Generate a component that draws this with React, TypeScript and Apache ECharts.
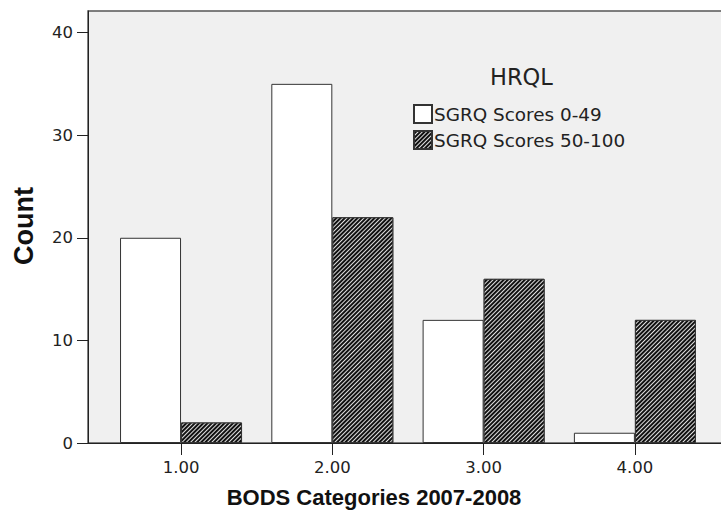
import React, { useEffect, useRef } from "react";
import * as echarts from "echarts";

const categories = [1, 2, 3, 4];
const low = [20, 35, 12, 1];
const high = [2, 22, 16, 12];
const yTicks = [0, 10, 20, 30, 40];
const seriesNames = ["SGRQ Scores 0-49", "SGRQ Scores 50-100"];

export default function App() {
  const ref = useRef<HTMLDivElement>(null);
  useEffect(() => {
    if (!ref.current) return;
    const chart = echarts.init(ref.current, null, { renderer: "svg" });
    const font = "'Liberation Sans', Arial, sans-serif";
    const font2 = "'DejaVu Sans', Verdana, sans-serif";
    chart.setOption({
      animation: false,
      backgroundColor: "#ffffff",
      textStyle: { fontFamily: font2 },
      grid: {
        left: 88,
        right: 0,
        top: 11,
        bottom: 89,
        show: true,
        backgroundColor: "#f0f0f0",
        borderColor: "#555",
        borderWidth: 1.5,
      },
      xAxis: {
        type: "value",
        min: 0.385,
        max: 4.622,
        splitLine: { show: false },
        axisLine: { show: true, onZero: false, lineStyle: { color: "#222", width: 1 } },
        axisTick: { show: true, length: 12, customValues: categories, lineStyle: { color: "#222" } },
        axisLabel: {
          customValues: categories,
          formatter: (v: number) => v.toFixed(2),
          fontSize: 16.5,
          color: "#222",
          margin: 16,
          fontFamily: font2,
        },
      },
      yAxis: {
        type: "value",
        min: 0,
        max: 42.1,
        interval: 10,
        splitLine: { show: false },
        axisLine: { show: true, lineStyle: { color: "#222", width: 1 } },
        axisTick: { show: true, length: 11, customValues: yTicks, lineStyle: { color: "#222" } },
        axisLabel: { customValues: yTicks, fontSize: 16.5, color: "#222", margin: 15, fontFamily: font2 },
      },
      legend: {
        orient: "vertical",
        left: 413,
        top: 104,
        padding: 0,
        itemWidth: 18,
        itemHeight: 18,
        itemGap: 6,
        icon: "rect",
        textStyle: { fontSize: 18.4, color: "#222", padding: [0, 0, 0, -3], fontFamily: font2 },
        data: seriesNames,
      },
      graphic: [
        {
          type: "text",
          x: 490,
          y: 77,
          style: {
            text: "HRQL",
            fontSize: 22.5,
            fill: "#222",
            align: "left",
            verticalAlign: "middle",
            fontFamily: font2,
          },
        },
        {
          type: "text",
          x: 374,
          y: 497,
          style: {
            text: "BODS Categories 2007-2008",
            fontSize: 22,
            fontWeight: "bold",
            fill: "#111",
            align: "center",
            verticalAlign: "middle",
            fontFamily: font,
          },
        },
        {
          type: "text",
          x: 24,
          y: 226,
          rotation: Math.PI / 2,
          style: {
            text: "Count",
            fontSize: 27,
            fontWeight: "bold",
            fill: "#111",
            align: "center",
            verticalAlign: "middle",
            fontFamily: font,
          },
        },
      ],
      series: [
        {
          name: seriesNames[0],
          type: "bar",
          barWidth: 61,
          barGap: "0%",
          data: categories.map((c, i) => [c, low[i]]),
          itemStyle: { color: "#ffffff", borderColor: "#333", borderWidth: 1 },
        },
        {
          name: seriesNames[1],
          type: "bar",
          barWidth: 61,
          barGap: "0%",
          data: categories.map((c, i) => [c, high[i]]),
          itemStyle: {
            color: "#111",
            borderColor: "#333",
            borderWidth: 1,
            decal: {
              symbol: "rect",
              symbolSize: 1,
              color: "#e0e0e0",
              dashArrayX: [1, 0],
              dashArrayY: [1, 2],
              rotation: -Math.PI / 4,
            },
          },
        },
      ],
    });
    return () => chart.dispose();
  }, []);
  return (
    <div style={{ position: "absolute", left: 0, top: 0, width: 721, height: 532, overflow: "hidden" }}>
      <div ref={ref} style={{ width: 729, height: 532 }} />
    </div>
  );
}
